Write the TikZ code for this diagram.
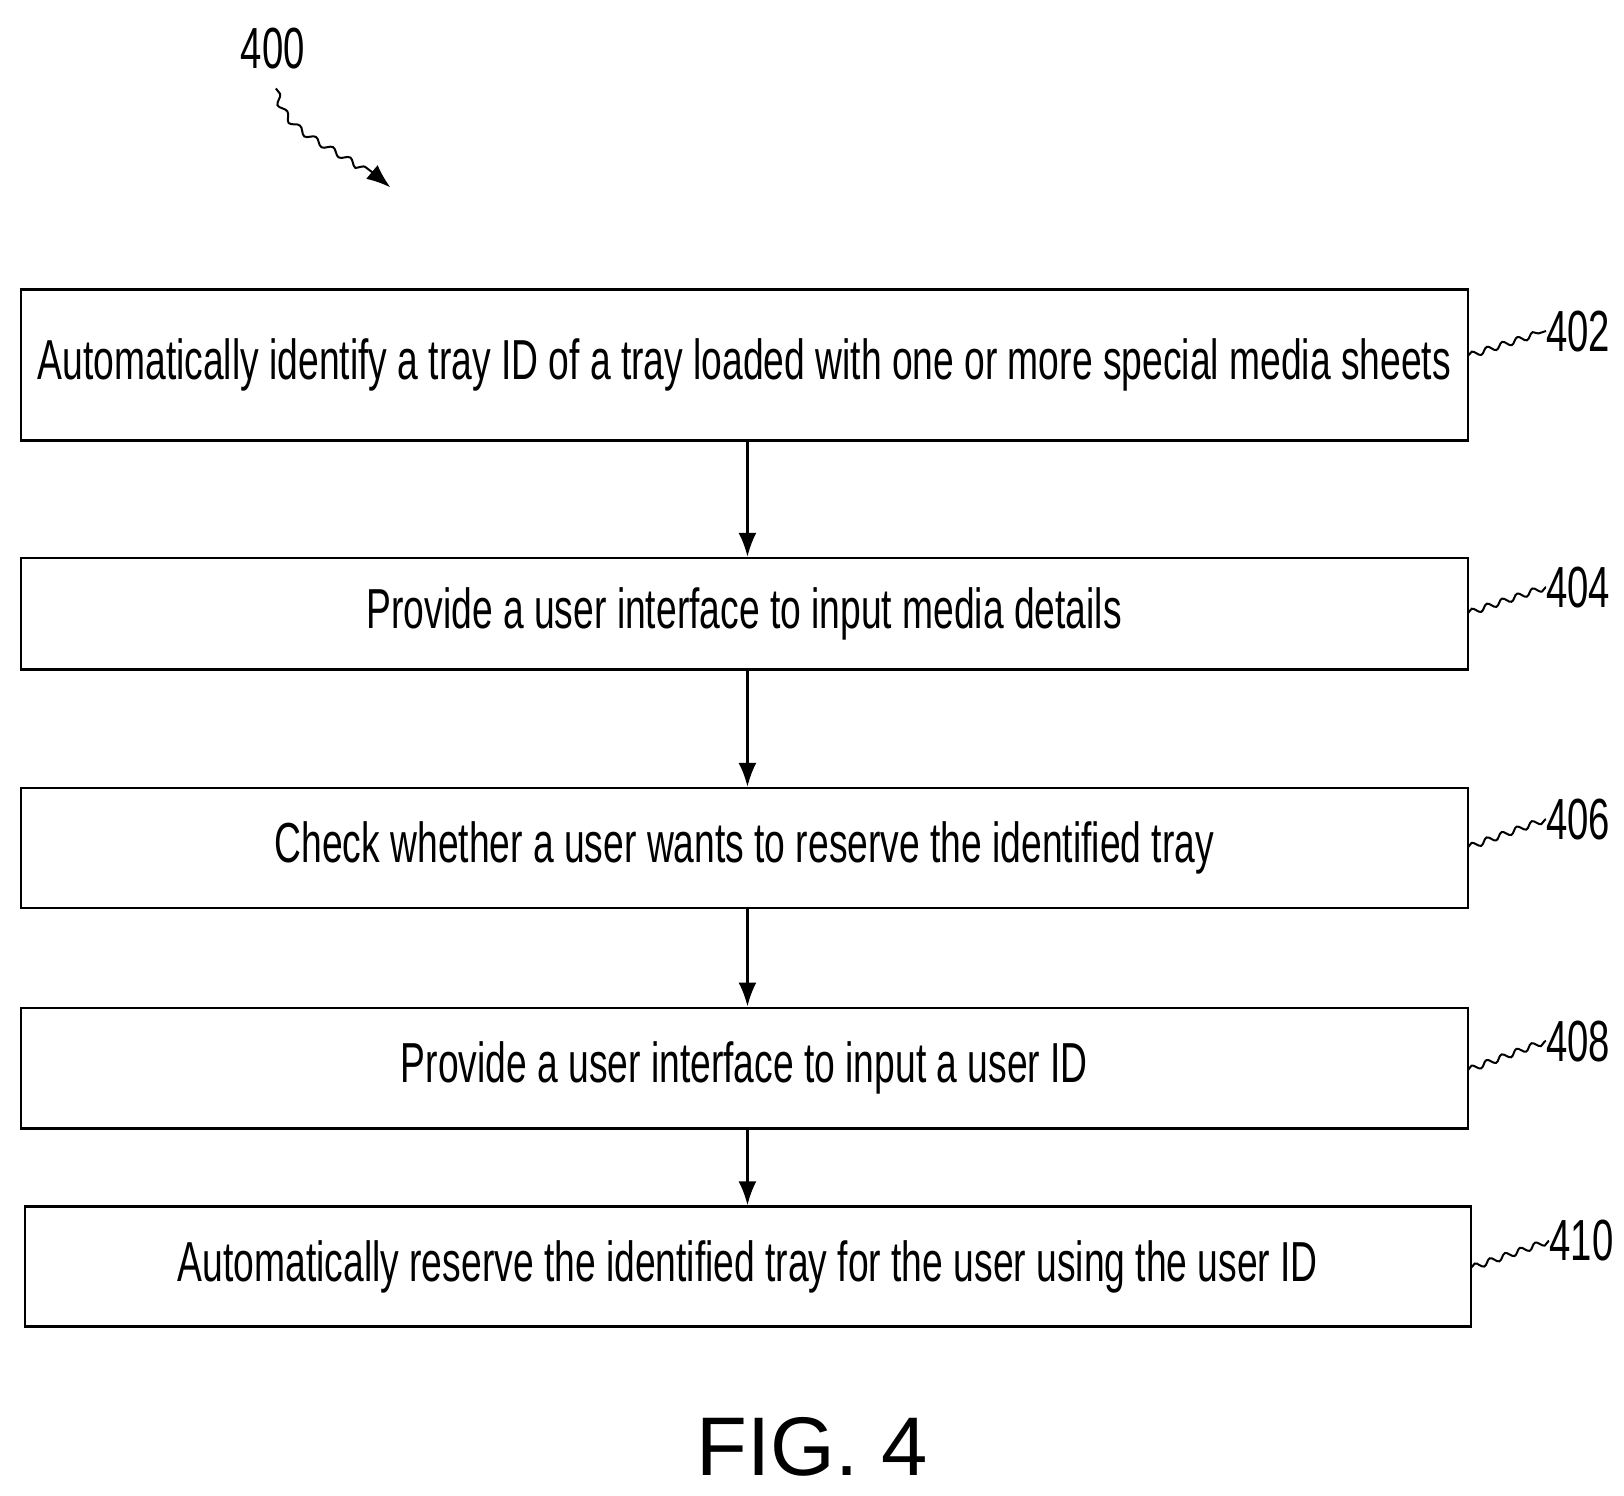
\documentclass[tikz,border=0pt]{standalone}
\usepackage{fontspec}
\setmainfont{Liberation Sans}
\newfontfamily\narrow[FakeStretch=0.66]{Liberation Sans}
\usetikzlibrary{decorations.pathmorphing,arrows.meta}
\begin{document}
\begin{tikzpicture}[x=0.5205pt,y=-0.5205pt,
  box/.style={draw,line width=1.2pt,minimum height=#1,inner sep=0pt,font=\narrow\fontsize{28.2}{31}\selectfont},
  arr/.style={-{Latex[length=12pt,width=9pt]},line width=1.2pt},
  lead/.style={line width=1pt,decorate,decoration={snake,amplitude=1.5pt,segment length=8pt}},
  lab/.style={font=\narrow\fontsize{29}{31}\selectfont,anchor=west,inner sep=0pt}]
\useasboundingbox (0,0) rectangle (1560,1437);
\node[box=75.5pt,minimum width=723.5pt] (b402) at (715,350.5) {Automatically identify a tray ID of a tray loaded with one or more special media sheets};
\node[box=55.7pt,minimum width=723.5pt] (b404) at (715,589.5) {Provide a user interface to input media details};
\node[box=59.9pt,minimum width=723.5pt] (b406) at (715,814.5) {Check whether a user wants to reserve the identified tray};
\node[box=60.4pt,minimum width=723.5pt] (b408) at (715,1026) {Provide a user interface to input a user ID};
\node[box=59.9pt,minimum width=723pt] (b410) at (718.5,1216.5) {Automatically reserve the identified tray for the user using the user ID};
\draw[arr] (b402.south -| 718,0) -- (b404.north -| 718,0);
\draw[arr] (b404.south -| 718,0) -- (b406.north -| 718,0);
\draw[arr] (b406.south -| 718,0) -- (b408.north -| 718,0);
\draw[arr] (b408.south -| 718,0) -- (b410.north -| 718,0);
\node[lab] (l402) at (1485,318) {402};
\node[lab] (l404) at (1485,564) {404};
\node[lab] (l406) at (1485,787) {406};
\node[lab] (l408) at (1485,1000) {408};
\node[lab] (l410) at (1488,1192) {410};
\draw[lead] (1410,342) -- (l402.west);
\draw[lead] (1410,589) -- (l404.west);
\draw[lead] (1410,814) -- (l406.west);
\draw[lead] (1410,1028) -- (l408.west);
\draw[lead] (1413,1218) -- (l410.west);
\node[font=\narrow\fontsize{29}{31}\selectfont] (l400) at (262,47) {400};
\coordinate (t400) at (375,180);
\draw[line width=1pt,-{Latex[length=12pt,width=9pt]},decorate,decoration={snake,amplitude=1.5pt,segment length=10pt,post length=12pt}] (265,85) .. controls (275,130) and (320,130) .. (t400);
\node[font=\fontsize{41.6}{45}\selectfont] (fig) at (780,1390) {FIG. 4};
\end{tikzpicture}
\end{document}
